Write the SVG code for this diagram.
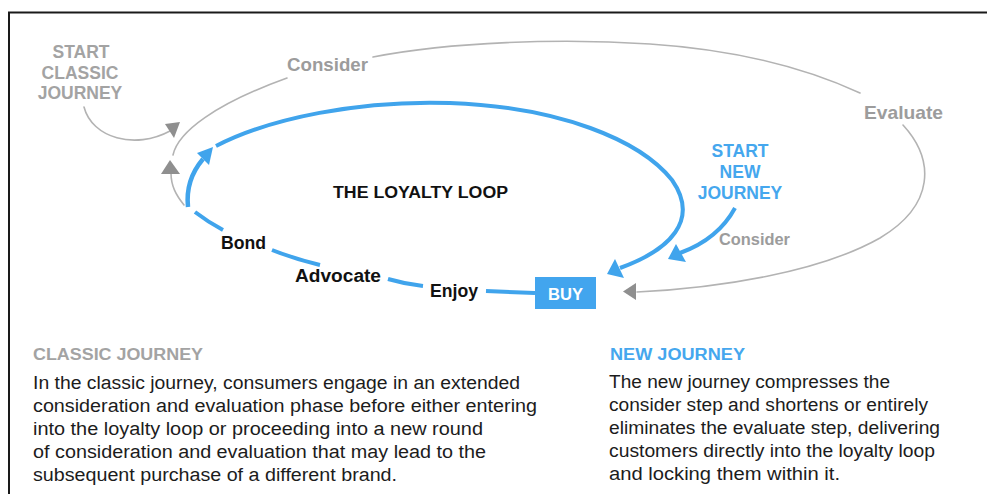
<svg xmlns="http://www.w3.org/2000/svg" width="987" height="494" viewBox="0 0 987 494">
<style>
.gl{fill:none;stroke:#b3b3b3;stroke-width:1.6;stroke-linecap:round}
.bl{fill:none;stroke:#40a4ec;stroke-width:4;stroke-linecap:butt}
.ga{fill:#8f8f8f}
.ba{fill:#40a4ec}
.lbl{font-family:"Liberation Sans",Arial,sans-serif;font-weight:700}
.gray{fill:#a3a3a3}
.gray2{fill:#9c9c9c}
.blue{fill:#45a7ee}
.blk{fill:#111}
.body{font-family:"Liberation Sans",Arial,sans-serif;font-size:18px;fill:#1c1c1c}
</style>
<rect x="0" y="0" width="987" height="494" fill="#fff"/>
<rect x="9" y="12.5" width="1000" height="500" fill="none" stroke="#1a1a1a" stroke-width="2"/>

<g id="connectors">
  <!-- classic journey gray loop -->
  <path class="gl" d="M173,155 C178,132 215,104 287,78"/>
  <path class="gl" d="M373,57 C450,42 560,38 650,44 C740,50 810,70 860,93"/>
  <path class="gl" d="M903,125 C935,160 935,205 880,238 C820,272 720,288 637,292"/>
  <polygon class="ga" points="623,291.5 636,283 636,300"/>
  <!-- gray arrow from loop to classic loop -->
  <path class="gl" d="M184,205 C176,195 171,186 171,173"/>
  <polygon class="ga" points="170,160 161,174 180,174"/>
  <!-- start classic journey arrow -->
  <path class="gl" d="M84,107 C92,138 135,150 170,131"/>
  <polygon class="ga" points="180,122 165,124 174,138"/>
  <!-- blue loyalty loop -->
  <path class="bl" d="M486,291 L535,293"/>
  <path class="bl" d="M388,279 Q405,284 423,286"/>
  <path class="bl" d="M272,250 Q295,259 320,265"/>
  <path class="bl" d="M195,212 Q208,222 223,230"/>
  <path class="bl" style="stroke-width:4.5" d="M188,207 C186,188 192,172 203,159"/>
  <polygon class="ba" points="213,147 197,153 209,165"/>
  <path class="bl" d="M216,146 C270,118 360,100 450,103 C560,107 640,140 672,180 C700,220 670,250 620,268"/>
  <polygon class="ba" points="607,274 615,259 624,278"/>
  <!-- start new journey arrow -->
  <path class="bl" d="M735,208 C722,232 702,245 680,253"/>
  <polygon class="ba" points="668,259 676,244 686,262"/>
</g>

<g id="start-classic">
  <text class="lbl gray" font-size="17.5" text-anchor="middle" x="81" y="58">START</text>
  <text class="lbl gray" font-size="17.5" text-anchor="middle" x="80" y="79">CLASSIC</text>
  <text class="lbl gray" font-size="17.5" text-anchor="middle" x="80" y="99">JOURNEY</text>
</g>
<g id="consider-classic">
  <text class="lbl gray2" font-size="18.5" x="287" y="71" textLength="81" lengthAdjust="spacingAndGlyphs">Consider</text>
</g>
<g id="evaluate">
  <text class="lbl gray2" font-size="19" x="864" y="119" textLength="79" lengthAdjust="spacingAndGlyphs">Evaluate</text>
</g>
<g id="loyalty-loop">
  <text class="lbl blk" font-size="17.4" x="333" y="198" textLength="175" lengthAdjust="spacingAndGlyphs">THE LOYALTY LOOP</text>
</g>
<g id="bond">
  <text class="lbl blk" font-size="17.6" x="221" y="249" textLength="45" lengthAdjust="spacingAndGlyphs">Bond</text>
</g>
<g id="advocate">
  <text class="lbl blk" font-size="18" x="295" y="282" textLength="86" lengthAdjust="spacingAndGlyphs">Advocate</text>
</g>
<g id="enjoy">
  <text class="lbl blk" font-size="17.6" x="430" y="297" textLength="48" lengthAdjust="spacingAndGlyphs">Enjoy</text>
</g>
<g id="buy">
  <rect x="535" y="277" width="61" height="32" fill="#42a5ee"/>
  <text class="lbl" font-size="16.6" fill="#fff" x="548" y="300" textLength="35" lengthAdjust="spacingAndGlyphs">BUY</text>
</g>
<g id="start-new">
  <text class="lbl blue" font-size="17.5" text-anchor="middle" x="740" y="157">START</text>
  <text class="lbl blue" font-size="17.5" text-anchor="middle" x="740" y="178">NEW</text>
  <text class="lbl blue" font-size="17.5" text-anchor="middle" x="740" y="199">JOURNEY</text>
</g>
<g id="consider-new">
  <text class="lbl gray2" font-size="16.4" x="719" y="245" textLength="71" lengthAdjust="spacingAndGlyphs">Consider</text>
</g>

<g id="classic-text">
  <text class="lbl gray" font-size="16.8" x="33" y="360" textLength="170" lengthAdjust="spacingAndGlyphs">CLASSIC JOURNEY</text>
  <text class="body" x="33" y="389" textLength="487" lengthAdjust="spacingAndGlyphs">In the classic journey, consumers engage in an extended</text>
  <text class="body" x="33" y="412" textLength="504" lengthAdjust="spacingAndGlyphs">consideration and evaluation phase before either entering</text>
  <text class="body" x="33" y="435" textLength="450" lengthAdjust="spacingAndGlyphs">into the loyalty loop or proceeding into a new round</text>
  <text class="body" x="33" y="458" textLength="453" lengthAdjust="spacingAndGlyphs">of consideration and evaluation that may lead to the</text>
  <text class="body" x="33" y="481" textLength="364" lengthAdjust="spacingAndGlyphs">subsequent purchase of a different brand.</text>
</g>
<g id="new-text">
  <text class="lbl blue" font-size="16.8" x="610" y="360" textLength="135" lengthAdjust="spacingAndGlyphs">NEW JOURNEY</text>
  <text class="body" x="609" y="388" textLength="281" lengthAdjust="spacingAndGlyphs">The new journey compresses the</text>
  <text class="body" x="609" y="411" textLength="319" lengthAdjust="spacingAndGlyphs">consider step and shortens or entirely</text>
  <text class="body" x="609" y="434" textLength="331" lengthAdjust="spacingAndGlyphs">eliminates the evaluate step, delivering</text>
  <text class="body" x="609" y="457" textLength="326" lengthAdjust="spacingAndGlyphs">customers directly into the loyalty loop</text>
  <text class="body" x="609" y="480" textLength="231" lengthAdjust="spacingAndGlyphs">and locking them within it.</text>
</g>
</svg>
